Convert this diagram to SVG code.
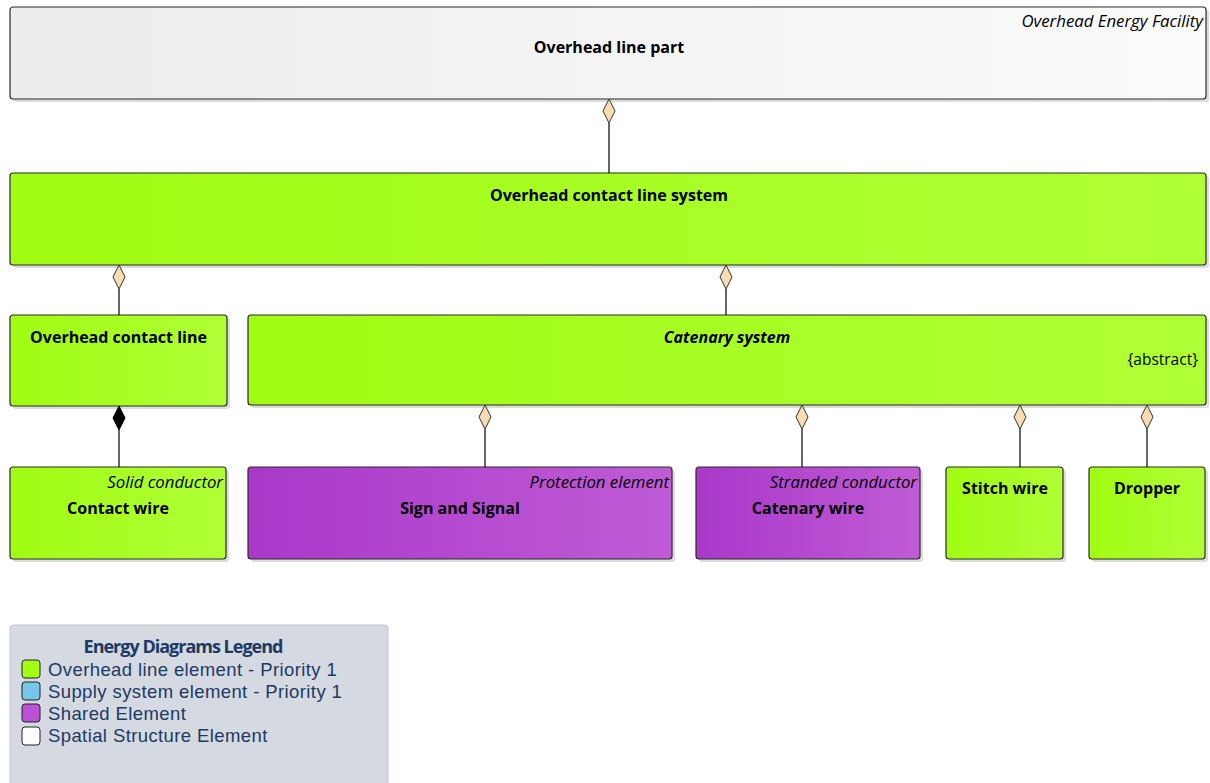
<svg xmlns="http://www.w3.org/2000/svg" width="1210" height="783" viewBox="0 0 1210 783">
<style>
.box{stroke:#2b2b2b;stroke-width:1.2}
.shadow{fill:#dcdcdc}
.g{fill:url(#gGreen)}
.p{fill:url(#gPurple)}
.w{fill:url(#gGray)}
.t{font-family:"Open Sans","Noto Sans",sans-serif;font-size:16px;font-weight:bold;fill:#000;text-anchor:middle}
.ti{font-family:"Open Sans","Noto Sans",sans-serif;font-size:16px;font-weight:bold;font-style:italic;fill:#000;text-anchor:middle}
.st{font-family:"Open Sans","Noto Sans",sans-serif;font-size:16.8px;font-style:italic;fill:#000;text-anchor:end}
.ab{font-family:"Open Sans","Noto Sans",sans-serif;font-size:15.5px;fill:#000;text-anchor:end}
.conn line{stroke:#000;stroke-width:1.2}
.od{fill:#fadcb4;stroke:#333;stroke-width:1}
.cd{fill:#000;stroke:#000;stroke-width:1}
.lg{font-family:"Liberation Sans",Arial,sans-serif;font-size:18.5px;letter-spacing:0.4px;fill:#1c3a63}
</style>
<defs>
<linearGradient id="gGreen" x1="0" y1="0" x2="1" y2="0"><stop offset="0" stop-color="#a0fc12"/><stop offset="1" stop-color="#b0ff36"/></linearGradient>
<linearGradient id="gPurple" x1="0" y1="0" x2="1" y2="0"><stop offset="0" stop-color="#a938c9"/><stop offset="1" stop-color="#c05cd6"/></linearGradient>
<linearGradient id="gGray" x1="0" y1="0" x2="1" y2="0"><stop offset="0" stop-color="#ececec"/><stop offset="1" stop-color="#fbfbfb"/></linearGradient>
</defs>
<rect width="1210" height="783" fill="#fff"/>

<g id="overhead-line-part">
<rect class="shadow" x="13" y="10" width="1196" height="92" rx="3"/>
<rect class="box w" x="10" y="7" width="1196" height="92" rx="3"/>
<text class="st" x="1203" y="27">Overhead Energy Facility</text>
<text class="t" x="609" y="53">Overhead line part</text>
</g>

<g id="overhead-contact-line-system">
<rect class="shadow" x="13" y="176" width="1196" height="92" rx="3"/>
<rect class="box g" x="10" y="173" width="1196" height="92" rx="3"/>
<text class="t" x="609" y="201">Overhead contact line system</text>
</g>

<g id="overhead-contact-line">
<rect class="shadow" x="13" y="318" width="217" height="91" rx="3"/>
<rect class="box g" x="10" y="315" width="217" height="91" rx="3"/>
<text class="t" x="118.5" y="343">Overhead contact line</text>
</g>

<g id="catenary-system">
<rect class="shadow" x="251" y="318" width="958" height="90" rx="3"/>
<rect class="box g" x="248" y="315" width="958" height="90" rx="3"/>
<text class="ti" x="727" y="343">Catenary system</text>
<text class="ab" x="1198" y="365">{abstract}</text>
</g>

<g id="contact-wire">
<rect class="shadow" x="13" y="470" width="216" height="92" rx="3"/>
<rect class="box g" x="10" y="467" width="216" height="92" rx="3"/>
<text class="st" x="223" y="488">Solid conductor</text>
<text class="t" x="118" y="514">Contact wire</text>
</g>

<g id="sign-and-signal">
<rect class="shadow" x="251" y="470" width="424" height="92" rx="3"/>
<rect class="box p" x="248" y="467" width="424" height="92" rx="3"/>
<text class="st" x="669" y="488">Protection element</text>
<text class="t" x="460" y="514">Sign and Signal</text>
</g>

<g id="catenary-wire">
<rect class="shadow" x="699" y="470" width="224" height="92" rx="3"/>
<rect class="box p" x="696" y="467" width="224" height="92" rx="3"/>
<text class="st" x="917" y="488">Stranded conductor</text>
<text class="t" x="808" y="514">Catenary wire</text>
</g>

<g id="stitch-wire">
<rect class="shadow" x="949" y="470" width="117" height="92" rx="3"/>
<rect class="box g" x="946" y="467" width="117" height="92" rx="3"/>
<text class="t" x="1005" y="494">Stitch wire</text>
</g>

<g id="dropper">
<rect class="shadow" x="1092" y="470" width="116" height="92" rx="3"/>
<rect class="box g" x="1089" y="467" width="116" height="92" rx="3"/>
<text class="t" x="1147" y="494">Dropper</text>
</g>

<g id="connectors" class="conn">
<line x1="609" y1="123" x2="609" y2="173"/>
<polygon class="od" points="609,99 615,111 609,123 603,111"/>
<line x1="119" y1="289" x2="119" y2="315"/>
<polygon class="od" points="119,265 125,277 119,289 113,277"/>
<line x1="726" y1="289" x2="726" y2="315"/>
<polygon class="od" points="726,265 732,277 726,289 720,277"/>
<line x1="119" y1="430" x2="119" y2="467"/>
<polygon class="cd" points="119,406 125,418 119,430 113,418"/>
<line x1="485" y1="429" x2="485" y2="467"/>
<polygon class="od" points="485,405 491,417 485,429 479,417"/>
<line x1="802" y1="429" x2="802" y2="467"/>
<polygon class="od" points="802,405 808,417 802,429 796,417"/>
<line x1="1020" y1="429" x2="1020" y2="467"/>
<polygon class="od" points="1020,405 1026,417 1020,429 1014,417"/>
<line x1="1147" y1="429" x2="1147" y2="467"/>
<polygon class="od" points="1147,405 1153,417 1147,429 1141,417"/>
</g>

<g id="legend">
<rect x="10" y="625" width="378" height="170" rx="3" fill="#d5d9e2" stroke="#c3c7d0" stroke-width="1"/>
<text x="183" y="653" font-family="'Open Sans','Noto Sans',sans-serif" font-size="18px" font-weight="bold" letter-spacing="-1" fill="#1c3a63" text-anchor="middle">Energy Diagrams Legend</text>
<rect x="22" y="660" width="18" height="18" rx="3" fill="#a2ff12" stroke="#222" stroke-width="1"/>
<rect x="22" y="682" width="18" height="18" rx="3" fill="#76c6e8" stroke="#222" stroke-width="1"/>
<rect x="22" y="704" width="18" height="18" rx="3" fill="#bb52d6" stroke="#222" stroke-width="1"/>
<rect x="22" y="727" width="18" height="18" rx="3" fill="#ffffff" stroke="#222" stroke-width="1"/>
<text class="lg" x="48" y="676">Overhead line element - Priority 1</text>
<text class="lg" x="48" y="698">Supply system element - Priority 1</text>
<text class="lg" x="48" y="720">Shared Element</text>
<text class="lg" x="48" y="742">Spatial Structure Element</text>
</g>
</svg>
